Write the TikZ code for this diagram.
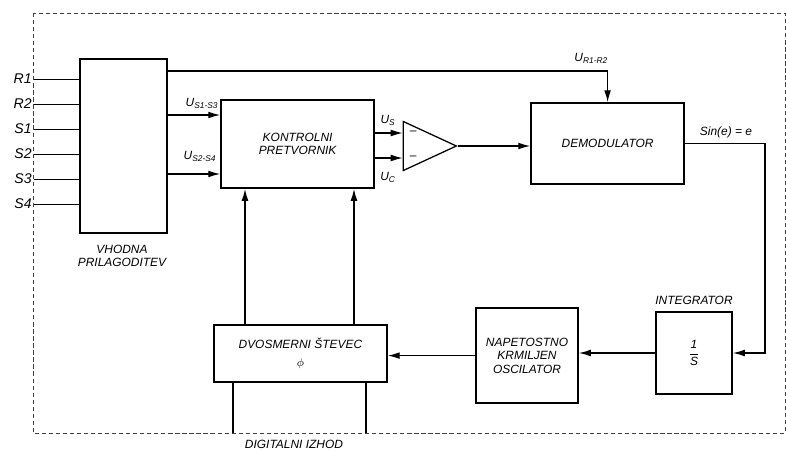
\documentclass[tikz,border=0pt]{standalone}
\usepackage{fontspec}
\setmainfont{Liberation Sans}
\usepackage{tikz}
\usetikzlibrary{arrows.meta,positioning,shapes.geometric,calc}
\tikzset{
  blok/.style={draw, rectangle, line width=1.2pt, align=center, inner sep=2pt},
  arr/.style={-{Latex[length=3mm,width=1.7mm]}, line width=0.9pt},
  wire/.style={line width=0.9pt},
  inp/.style={line width=0.7pt},
  pin/.style={anchor=east, inner sep=1.5pt, font=\fontsize{10}{12}\selectfont\itshape},
  frame/.style={densely dashed, line width=0.5pt, draw=black!75}
}

\begin{document}
\begin{tikzpicture}[font=\fontsize{8.5}{9.5}\selectfont\itshape]
\useasboundingbox (0,0) rectangle (19.65,-11.25);
\draw[frame] (0.825,-0.325) rectangle (19.625,-10.825);

\node[blok, minimum width=2.175cm, minimum height=4.35cm] (vh) at (3.09,-3.65) {};
\node[align=center] (vhl) at (3.05,-6.4) {VHODNA\\PRILAGODITEV};
\node[pin] (r1) at (0.85,-1.975) {R1};
\node[pin] (r2) at (0.85,-2.6) {R2};
\node[pin] (s1) at (0.85,-3.225) {S1};
\node[pin] (s2) at (0.85,-3.85) {S2};
\node[pin] (s3) at (0.85,-4.475) {S3};
\node[pin] (s4) at (0.85,-5.1) {S4};
\draw[inp] (r1.east) -- (vh.west |- r1);
\draw[inp] (r2.east) -- (vh.west |- r2);
\draw[inp] (s1.east) -- (vh.west |- s1);
\draw[inp] (s2.east) -- (vh.west |- s2);
\draw[inp] (s3.east) -- (vh.west |- s3);
\draw[inp] (s4.east) -- (vh.west |- s4);

\node[blok, minimum width=3.825cm, minimum height=2.2cm] (kp) at (7.44,-3.6) {KONTROLNI\\PRETVORNIK};
\draw[arr] (vh.east |- 0,-2.875) -- (kp.west |- 0,-2.875);
\draw[arr] (vh.east |- 0,-4.35) -- (kp.west |- 0,-4.35);
\node (us13) at (5.05,-2.575) {U\textsubscript{S1-S3}};
\node (us24) at (5.0,-3.9) {U\textsubscript{S2-S4}};

\node[draw, isosceles triangle, isosceles triangle stretches, line width=0.9pt,
  minimum width=1.225cm, minimum height=1.325cm, inner sep=0pt, anchor=apex] (amp) at (11.45,-3.65) {};
\draw[arr] (kp.east |- 0,-3.325) -- (amp.left corner |- 0,-3.325);
\draw[arr] (kp.east |- 0,-3.95) -- (amp.left corner |- 0,-3.95);
\node (m1) at (10.33,-3.325) {--};
\node (m2) at (10.33,-3.95) {--};
\node (us) at (9.7,-3.0) {U\textsubscript{S}};
\node (uc) at (9.7,-4.43) {U\textsubscript{C}};

\node[blok, minimum width=3.825cm, minimum height=2.025cm] (dm) at (15.19,-3.59) {DEMODULATOR};
\draw[arr] (amp.apex) -- (dm.west |- amp.apex);
\draw[arr] (vh.east |- 0,-1.775) -| (dm.north);
\node (ur) at (14.78,-1.45) {U\textsubscript{R1-R2}};

\node[blok, minimum width=1.9cm, minimum height=2.05cm] (in) at (17.35,-8.825) {$\displaystyle\frac{\textit{1}}{\textit{S}}$};
\node[above=0.5mm of in] (inl) {INTEGRATOR};
\coordinate (rt) at (19.125,0);
\draw[arr] (dm.east) -- (dm.east -| rt) |- (in.east);
\node (sn) at (18.15,-3.3) {Sin(e) = e};

\node[blok, minimum width=2.55cm, minimum height=2.375cm] (nko) at (13.175,-8.89) {NAPETOSTNO\\KRMILJEN\\OSCILATOR};
\draw[arr] (in.west) -- (nko.east |- in.west);

\node[blok, minimum width=4.325cm, minimum height=1.425cm] (dv) at (7.51,-8.84) {DVOSMERNI ŠTEVEC\\[3pt]$\phi$};
\draw[arr] (nko.west) -- (dv.east |- nko.west);
\draw[arr] (dv.north -| 6.125,0) -- (kp.south -| 6.125,0);
\draw[arr] (dv.north -| 8.85,0) -- (kp.south -| 8.85,0);
\coordinate (o1) at (5.825,-10.825);
\coordinate (o2) at (9.15,-10.825);
\draw[wire] (dv.south -| o1) -- (o1);
\draw[wire] (dv.south -| o2) -- (o2);
\node (dig) at (7.35,-11.1) {DIGITALNI IZHOD};
\end{tikzpicture}
\end{document}
